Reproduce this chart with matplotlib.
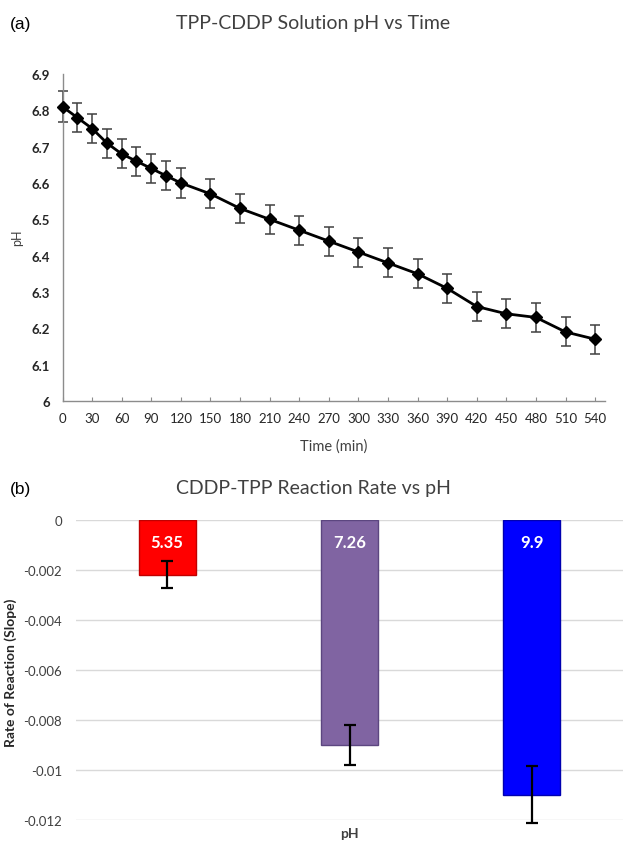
import matplotlib
matplotlib.use('Agg')
import matplotlib.pyplot as plt

plt.rcParams['font.family'] = ['Lato', 'DejaVu Sans']

# ---- data: panel (a)
time_min = [0, 15, 30, 45, 60, 75, 90, 105, 120, 150, 180, 210, 240, 270,
            300, 330, 360, 390, 420, 450, 480, 510, 540]
ph_values = [6.81, 6.78, 6.75, 6.71, 6.68, 6.66, 6.64, 6.62, 6.60, 6.57, 6.53,
             6.50, 6.47, 6.44, 6.41, 6.38, 6.35, 6.31, 6.26, 6.24, 6.23, 6.19, 6.17]
ph_err = [0.043, 0.04, 0.04, 0.04, 0.04, 0.04, 0.04, 0.04, 0.04, 0.04, 0.04,
          0.04, 0.04, 0.04, 0.04, 0.04, 0.04, 0.04, 0.04, 0.04, 0.04, 0.04, 0.04]
x_ticks = [0, 30, 60, 90, 120, 150, 180, 210, 240, 270, 300, 330, 360, 390,
           420, 450, 480, 510, 540]
y_ticks_a = [6.0, 6.1, 6.2, 6.3, 6.4, 6.5, 6.6, 6.7, 6.8, 6.9]
y_ticklabels_a = ['6', '6.1', '6.2', '6.3', '6.4', '6.5', '6.6', '6.7', '6.8', '6.9']

# ---- data: panel (b)
ph_levels = ['5.35', '7.26', '9.9']
rates = [-0.0022, -0.0090, -0.0110]
rate_err = [0.00053, 0.0008, 0.00115]
bar_colors = ['#FF0000', '#8064A2', '#0000FF']
bar_edges = ['#C00000', '#5C4680', '#0000B0']
y_ticks_b = [0, -0.002, -0.004, -0.006, -0.008, -0.01, -0.012]
y_ticklabels_b = ['0', '-0.002', '-0.004', '-0.006', '-0.008', '-0.01', '-0.012']

W, H = 623, 845
fig = plt.figure(figsize=(W / 100, H / 100), dpi=100)


def fx(px):
    return px / W


def fy(py):
    return 1 - py / H


# ================= panel (a)
ax1 = fig.add_axes([fx(62.5), fy(402), fx(605 - 62.5), (402 - 75) / H])
ax1.errorbar(time_min, ph_values, yerr=ph_err, fmt='none', ecolor='#404040',
             elinewidth=1.1, capsize=3.5, capthick=1.1, zorder=2, clip_on=False)
ax1.plot(time_min, ph_values, color='black', lw=2.0, marker='D', ms=6,
         zorder=3, clip_on=False)
ax1.set_xlim(0, 550)
ax1.set_ylim(6.0, 6.9)
ax1.set_xticks(x_ticks)
ax1.set_xticklabels([str(t) for t in x_ticks], fontsize=9.5)
ax1.set_yticks(y_ticks_a)
ax1.set_yticklabels(y_ticklabels_a, fontsize=9.5, fontweight='bold')
for s in ['top', 'right']:
    ax1.spines[s].set_visible(False)
for s in ['left', 'bottom']:
    ax1.spines[s].set_color('#8C8C8C')
    ax1.spines[s].set_linewidth(1.0)
ax1.tick_params(axis='x', direction='in', length=3, color='#8C8C8C', pad=8,
                labelcolor='#262626')
ax1.tick_params(axis='y', length=0, pad=9, labelcolor='#262626')

fig.text(fx(334), fy(447), 'Time (min)', ha='center', va='center',
         fontsize=10.5, color='#404040')
fig.text(fx(17.5), fy(238), 'pH', ha='center', va='center', rotation=90,
         fontsize=9, color='#404040')
fig.text(fx(313), fy(23), 'TPP-CDDP Solution pH vs Time', ha='center',
         va='center', fontsize=14, color='#404040')
fig.text(fx(10), fy(25), '(a)', ha='left', va='center', fontsize=12.5,
         family='Liberation Sans', color='black')

# ================= panel (b)
ax2 = fig.add_axes([fx(76), fy(820.7), fx(547), 300 / H])
n = len(rates)
positions = [0.5 + (i - (n - 1) / 2) / 3 for i in range(n)]
bars = ax2.bar(positions, rates, width=0.104, color=bar_colors,
               edgecolor=bar_edges, linewidth=1.0, zorder=2)
ax2.errorbar(positions, rates, yerr=rate_err, fmt='none', ecolor='black',
             elinewidth=1.6, capsize=4, capthick=1.6, zorder=3, clip_on=False)
for p, lab in zip(positions, ph_levels):
    ax2.text(p, -0.0009, lab, ha='center', va='center', color='white',
             fontsize=12, fontweight='bold', zorder=4)
ax2.set_xlim(0, 1)
ax2.set_ylim(-0.012, 0)
ax2.set_yticks(y_ticks_b)
ax2.set_yticklabels(y_ticklabels_b, fontsize=9.5, color='#404040')
ax2.set_xticks([0.5])
ax2.set_xticklabels(['pH'], fontsize=10, fontweight='bold', color='#404040')
ax2.tick_params(axis='x', length=0, pad=5)
ax2.tick_params(axis='y', length=0, pad=10)
for s in ax2.spines.values():
    s.set_visible(False)
ax2.grid(axis='y', color='#D9D9D9', lw=1.0, zorder=0)
ax2.set_axisbelow(True)

fig.text(fx(10.5), fy(673), 'Rate of Reaction (Slope)', ha='center',
         va='center', rotation=90, fontsize=10, fontweight='bold',
         color='#262626')
fig.text(fx(313), fy(489), 'CDDP-TPP Reaction Rate vs pH', ha='center',
         va='center', fontsize=14, color='#404040')
fig.text(fx(10), fy(490), '(b)', ha='left', va='center', fontsize=12.5,
         family='Liberation Sans', color='black')

fig.savefig('out.png', dpi=100)
